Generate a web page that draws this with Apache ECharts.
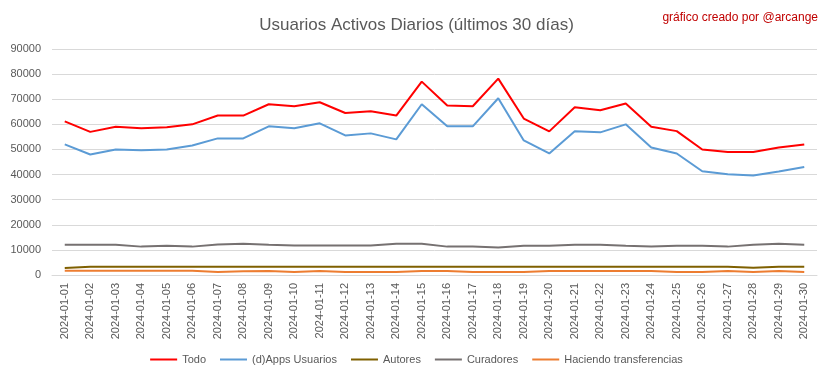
<!DOCTYPE html>
<html>
<head>
<meta charset="utf-8">
<script src="https://cdn.jsdelivr.net/npm/echarts@6/dist/echarts.min.js"></script>
<style>
html,body{margin:0;padding:0;background:#fff;}
#c{width:833px;height:379px;}
</style>
</head>
<body>
<div id="c"></div>
<script>
const categories = ["2024-01-01","2024-01-02","2024-01-03","2024-01-04","2024-01-05","2024-01-06","2024-01-07","2024-01-08","2024-01-09","2024-01-10","2024-01-11","2024-01-12","2024-01-13","2024-01-14","2024-01-15","2024-01-16","2024-01-17","2024-01-18","2024-01-19","2024-01-20","2024-01-21","2024-01-22","2024-01-23","2024-01-24","2024-01-25","2024-01-26","2024-01-27","2024-01-28","2024-01-29","2024-01-30"];
const todo = [61200,57000,59000,58400,58800,60000,63500,63500,68000,67200,68800,64500,65200,63500,77000,67500,67200,78200,62300,57200,66800,65600,68300,59000,57300,50000,49000,49000,50800,52000];
const apps = [52000,48000,50000,49700,50000,51600,54400,54400,59200,58400,60400,55600,56400,54000,68000,59200,59200,70400,53600,48400,57200,56800,60000,50800,48400,41300,40100,39600,41200,43000];
const autores = [2800,3300,3300,3300,3300,3300,3300,3300,3300,3300,3300,3300,3300,3300,3300,3300,3300,3300,3300,3300,3300,3300,3300,3300,3300,3300,3300,2900,3300,3300];
const curadores = [12000,12000,12000,11300,11600,11300,12100,12400,12000,11700,11700,11700,11700,12400,12400,11300,11300,11000,11600,11600,12000,12000,11600,11300,11600,11600,11300,12000,12400,12000];
const transferencias = [1700,1700,1700,1700,1700,1700,1200,1500,1600,1200,1600,1200,1200,1200,1600,1600,1200,1200,1200,1600,1600,1600,1600,1600,1200,1200,1600,1200,1600,1200];
const yTicks = [0,10000,20000,30000,40000,50000,60000,70000,80000,90000];

const seriesDefs = [
  {name:'Todo', data:todo, color:'#FF0000'},
  {name:'(d)Apps Usuarios', data:apps, color:'#5B9BD5'},
  {name:'Autores', data:autores, color:'#7F6000'},
  {name:'Curadores', data:curadores, color:'#767171'},
  {name:'Haciendo transferencias', data:transferencias, color:'#ED7D31'}
];

const chart = echarts.init(document.getElementById('c'), null, {renderer:'canvas'});
const font = 'Liberation Sans, Arial, sans-serif';
chart.setOption({
  animation:false,
  backgroundColor:'#ffffff',
  textStyle:{fontFamily:font},
  title:[{
    text:'Usuarios Activos Diarios (últimos 30 días)',
    left:'center', top:12,
    textStyle:{fontFamily:font, fontSize:17, fontWeight:'normal', color:'#595959'}
  },{
    text:'gráfico creado por @arcange',
    right:10, top:7,
    textStyle:{fontFamily:font, fontSize:12, fontWeight:'normal', color:'#C00000'}
  }],
  legend:{
    bottom:9, left:'center',
    icon:'rect', itemWidth:27, itemHeight:2, itemGap:14,
    textStyle:{fontFamily:font, fontSize:11, color:'#595959'},
    data:seriesDefs.map(s=>s.name)
  },
  grid:{left:52, right:16, top:49, bottom:104, containLabel:false},
  xAxis:{
    type:'category', data:categories, boundaryGap:true,
    axisLine:{show:true, lineStyle:{color:'#D9D9D9', width:1}},
    axisTick:{show:false},
    axisLabel:{rotate:90, fontSize:11, color:'#595959', margin:8, interval:0, fontFamily:font},
    splitLine:{show:false}
  },
  yAxis:{
    type:'value', min:yTicks[0], max:yTicks[yTicks.length-1], interval:10000,
    axisLine:{show:false}, axisTick:{show:false},
    axisLabel:{fontSize:11, color:'#595959', margin:11, fontFamily:font, formatter:function(v){return String(v);}},
    splitLine:{lineStyle:{color:'#D9D9D9', width:1}}
  },
  series:seriesDefs.map(s=>({
    name:s.name, type:'line', data:s.data, symbol:'none',
    lineStyle:{color:s.color, width:2}, itemStyle:{color:s.color}
  }))
});
</script>
</body>
</html>
